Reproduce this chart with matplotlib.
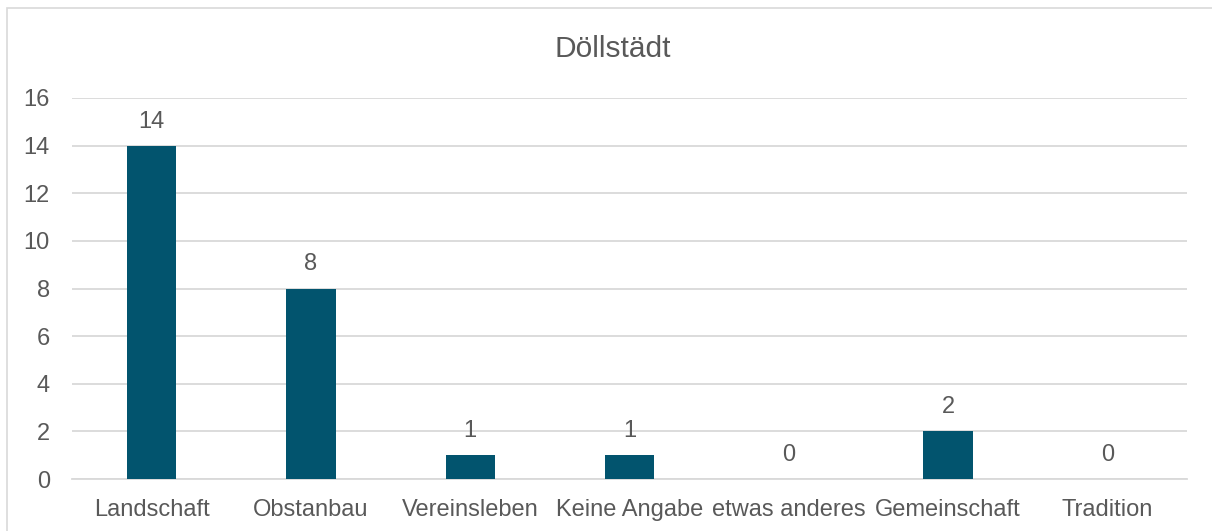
import matplotlib.pyplot as plt
from matplotlib.patches import Rectangle

plt.rcParams['font.family'] = ['Liberation Sans', 'DejaVu Sans']

# Daten
kategorien = ["Landschaft", "Obstanbau", "Vereinsleben", "Keine Angabe",
              "etwas anderes", "Gemeinschaft", "Tradition"]
werte = [14, 8, 1, 1, 0, 2, 0]

text_farbe = "#595959"
balken_farbe = "#02546E"
gitter_farbe = "#D9D9D9"

fig = plt.figure(figsize=(12.12, 5.31), dpi=100)
ax = fig.add_axes([72 / 1212, 1 - 479 / 531, (1187 - 72) / 1212, (479 - 98) / 531])

x = range(len(kategorien))
bars = ax.bar(x, werte, width=0.31, color=balken_farbe, zorder=3)

# Werte über den Balken
for xi, w in zip(x, werte):
    ax.text(xi, w + 0.55, str(w), ha="center", va="bottom", fontsize=17, color=text_farbe)

ax.set_xlim(-0.5, len(kategorien) - 0.5)
ax.set_ylim(0, 16)
ax.set_yticks(range(0, 17, 2))
ax.set_xticks(list(x))
ax.set_xticklabels(kategorien)
ax.yaxis.grid(True, color=gitter_farbe, linewidth=1.3, zorder=0)
ax.tick_params(axis="y", length=0, pad=16, labelsize=17, labelcolor=text_farbe)
ax.tick_params(axis="x", length=0, pad=14.5, labelsize=17, labelcolor=text_farbe)
for s in ["top", "right", "left"]:
    ax.spines[s].set_visible(False)
ax.spines["bottom"].set_color(gitter_farbe)
ax.spines["bottom"].set_linewidth(1.3)

fig.text(613 / 1212, 1 - 49 / 531, "Döllstädt", ha="center", va="center", fontsize=21.5, color=text_farbe)

# Rahmen um das Diagramm
fig.patches.append(Rectangle((7 / 1212, -0.1), 1.2, 1 - 8 / 531 + 0.1, transform=fig.transFigure,
                             fill=False, edgecolor=gitter_farbe, linewidth=1.2))

fig.savefig("out.png", dpi=100)
